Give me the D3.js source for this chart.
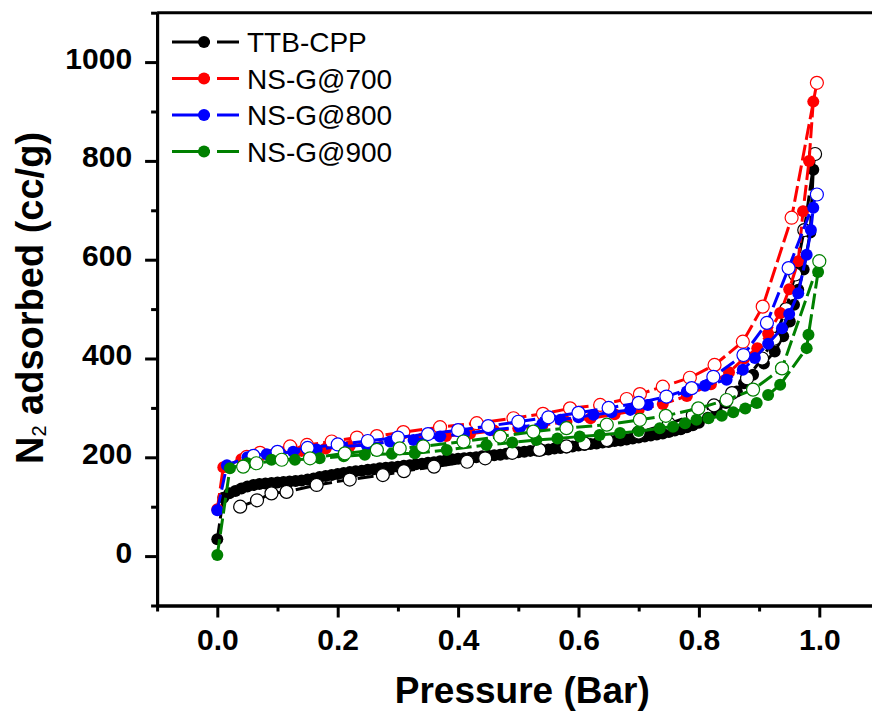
<!DOCTYPE html>
<html>
<head>
<meta charset="utf-8">
<script src="https://cdn.jsdelivr.net/npm/d3@7"></script>
<style>
  html, body { margin: 0; padding: 0; background: #fff; }
  svg { display: block; font-family: "Liberation Sans", Arial, sans-serif; }
</style>
</head>
<body>
<svg id="chart" width="872" height="712"></svg>
<script>
// ---------- data ----------
const seriesNames = ["TTB-CPP", "NS-G@700", "NS-G@800", "NS-G@900"];
const seriesColors = ["#000000", "#ff0000", "#0000ff", "#008000"];

// TTB-CPP (adsorption is a dense run of points)
const ttbAdsP = [0, 0.01, 0.02, 0.03, 0.04, 0.05, 0.06, 0.07, 0.08, 0.09, 0.10, 0.11, 0.12, 0.13, 0.14, 0.15, 0.16, 0.17, 0.18, 0.19, 0.20, 0.21, 0.22, 0.23, 0.24, 0.25, 0.26, 0.27, 0.28, 0.29, 0.30, 0.31, 0.32, 0.33, 0.34, 0.35, 0.36, 0.37, 0.38, 0.39, 0.40, 0.41, 0.42, 0.43, 0.44, 0.45, 0.46, 0.47, 0.48, 0.49, 0.50, 0.51, 0.52, 0.53, 0.54, 0.55, 0.56, 0.57, 0.58, 0.59, 0.60, 0.61, 0.62, 0.63, 0.64, 0.65, 0.66, 0.67, 0.68, 0.69, 0.70, 0.71, 0.72, 0.73, 0.74, 0.75, 0.76, 0.77, 0.78, 0.79, 0.80, 0.815, 0.83, 0.845, 0.863, 0.875, 0.89, 0.908, 0.926, 0.94, 0.951, 0.958, 0.965, 0.974, 0.985, 0.99];
const ttbAdsV = [34, 118, 127, 132, 137, 141, 144, 146, 147, 148, 149, 150, 151, 152, 153, 155, 157, 160, 162, 164, 166, 168, 170, 172, 173, 175, 176, 178, 179, 180, 181, 183, 184, 186, 187, 189, 190, 192, 194, 196, 197, 198, 199, 200, 202, 203, 204, 205, 207, 208, 210, 211, 213, 214, 215, 216, 218, 219, 220, 222, 224, 225, 227, 228, 230, 231, 233, 234, 236, 238, 240, 242, 244, 246, 248, 251, 254, 257, 261, 265, 270, 280, 292, 310, 333, 350, 367, 390, 414, 445, 475, 509, 539, 580, 655, 782];
const ttbDesP = [0.993, 0.975, 0.96, 0.945, 0.925, 0.905, 0.88, 0.855, 0.825, 0.79, 0.75, 0.70, 0.647, 0.61, 0.58, 0.535, 0.49, 0.445, 0.415, 0.36, 0.31, 0.275, 0.22, 0.165, 0.115, 0.09, 0.066, 0.038];
const ttbDesV = [814, 660, 570, 500, 440, 400, 360, 330, 305, 285, 268, 250, 235, 228, 222, 215, 209, 198, 191, 181, 172, 164, 155, 144, 130, 127, 113, 100];

// NS-G@700
const g700AdsP = [0, 0.01, 0.04, 0.07, 0.10, 0.14, 0.18, 0.22, 0.26, 0.30, 0.34, 0.38, 0.42, 0.46, 0.50, 0.54, 0.58, 0.62, 0.66, 0.70, 0.74, 0.78, 0.82, 0.85, 0.875, 0.897, 0.915, 0.935, 0.95, 0.965, 0.973, 0.983, 0.99];
const g700AdsV = [95, 180, 196, 202, 207, 213, 218, 223, 228, 233, 238, 243, 248, 254, 259, 265, 272, 279, 287, 296, 308, 324, 348, 372, 400, 421, 450, 492, 540, 597, 698, 800, 920];
const g700DesP = [0.996, 0.954, 0.906, 0.873, 0.826, 0.785, 0.740, 0.702, 0.680, 0.636, 0.586, 0.541, 0.492, 0.431, 0.37, 0.309, 0.265, 0.232, 0.19, 0.149, 0.121, 0.071, 0.049];
const g700DesV = [958, 685, 505, 434, 387, 361, 343, 328, 318, 306, 299, 288, 279, 269, 261, 251, 243, 240, 232, 225, 222, 209, 201];

// NS-G@800
const g800AdsP = [0, 0.016, 0.05, 0.082, 0.126, 0.165, 0.207, 0.248, 0.287, 0.326, 0.37, 0.41, 0.453, 0.503, 0.54, 0.57, 0.60, 0.625, 0.655, 0.686, 0.715, 0.747, 0.78, 0.81, 0.846, 0.873, 0.893, 0.915, 0.938, 0.95, 0.965, 0.979, 0.986, 0.99];
const g800AdsV = [93, 184, 200, 206, 211, 216, 222, 225, 232, 235, 242, 248, 255, 261, 268, 276, 281, 286, 291, 296, 306, 321, 333, 345, 357, 377, 401, 430, 461, 490, 532, 610, 660, 705];
const g800DesP = [0.996, 0.949, 0.913, 0.874, 0.824, 0.788, 0.746, 0.70, 0.65, 0.60, 0.55, 0.50, 0.45, 0.40, 0.35, 0.30, 0.25, 0.20, 0.15, 0.10, 0.06];
const g800DesV = [732, 583, 472, 407, 363, 340, 323, 310, 300, 290, 281, 272, 263, 255, 247, 240, 233, 226, 219, 211, 203];

// NS-G@900
const g900AdsP = [0, 0.021, 0.05, 0.09, 0.129, 0.17, 0.21, 0.245, 0.29, 0.328, 0.381, 0.447, 0.49, 0.53, 0.565, 0.602, 0.635, 0.669, 0.70, 0.735, 0.757, 0.777, 0.796, 0.816, 0.838, 0.857, 0.877, 0.896, 0.915, 0.935, 0.979, 0.982, 0.998];
const g900AdsV = [2, 178, 188, 195, 195, 198, 202, 205, 207, 208, 215, 225, 230, 235, 238, 242, 245, 249, 253, 259, 262, 269, 276, 279, 284, 291, 299, 310, 326, 347, 421, 448, 575];
const g900DesP = [1.0, 0.938, 0.89, 0.846, 0.799, 0.745, 0.702, 0.647, 0.58, 0.525, 0.47, 0.409, 0.342, 0.303, 0.265, 0.212, 0.154, 0.107, 0.065, 0.043];
const g900DesV = [597, 380, 337, 316, 299, 284, 276, 266, 259, 252, 242, 232, 222, 218, 215, 208, 198, 195, 188, 181];

// tick values
const xMajorTicks = [0, 0.2, 0.4, 0.6, 0.8, 1.0];
const xMinorTicks = [-0.1, 0.1, 0.3, 0.5, 0.7, 0.9, 1.1];
const yMajorTicks = [0, 200, 400, 600, 800, 1000];
const yMinorTicks = [-100, 100, 300, 500, 700, 900, 1100];

// ---------- build ----------
const zip = (P, V) => P.map((p, i) => ({ p: p, v: V[i] }));
const series = [
  { ads: zip(ttbAdsP, ttbAdsV), des: zip(ttbDesP, ttbDesV) },
  { ads: zip(g700AdsP, g700AdsV), des: zip(g700DesP, g700DesV) },
  { ads: zip(g800AdsP, g800AdsV), des: zip(g800DesP, g800DesV) },
  { ads: zip(g900AdsP, g900AdsV), des: zip(g900DesP, g900DesV) }
];

const svg = d3.select("#chart");
const x = d3.scaleLinear().domain([-0.1, 1.1]).range([157.1, 879.5]);
const y = d3.scaleLinear().domain([-100, 1100]).range([605.5, 12.7]);

// frame (top and right)
svg.append("path")
  .attr("d", `M${x(-0.1)},${y(1100)}H${x(1.1)}V${y(-100)}`)
  .attr("fill", "none").attr("stroke", "#000").attr("stroke-width", 3);

// axes
function styleAxis(g) {
  g.select(".domain").attr("stroke-width", 3);
  g.selectAll(".tick line").attr("stroke-width", 3);
  g.selectAll("text").attr("font-weight", "bold").attr("font-size", 30)
    .attr("font-family", "'Liberation Sans', Arial, sans-serif").attr("fill", "#000");
}
const gxMinor = svg.append("g").attr("transform", `translate(0,${y(-100)})`)
  .call(d3.axisBottom(x).tickValues(xMinorTicks).tickSize(6).tickFormat("").tickSizeOuter(0));
gxMinor.call(styleAxis);
const gx = svg.append("g").attr("transform", `translate(0,${y(-100)})`)
  .call(d3.axisBottom(x).tickValues(xMajorTicks).tickSize(12).tickPadding(11)
    .tickFormat(d3.format(".1f")).tickSizeOuter(0));
gx.call(styleAxis);

const gyMinor = svg.append("g").attr("transform", `translate(${x(-0.1)},0)`)
  .call(d3.axisLeft(y).tickValues(yMinorTicks).tickSize(6).tickFormat("").tickSizeOuter(0));
gyMinor.call(styleAxis);
const gy = svg.append("g").attr("transform", `translate(${x(-0.1)},0)`)
  .call(d3.axisLeft(y).tickValues(yMajorTicks).tickSize(12).tickPadding(13)
    .tickFormat(d3.format("d")).tickSizeOuter(0));
gy.call(styleAxis);
gy.selectAll("text").attr("dy", "0.2em");

// axis titles
svg.append("text")
  .attr("x", (x(0) + x(1)) / 2 + 4).attr("y", 703)
  .attr("text-anchor", "middle").attr("font-weight", "bold").attr("font-size", 37)
  .text("Pressure (Bar)");

const yt = svg.append("text")
  .attr("transform", "translate(43,298) rotate(-90)")
  .attr("text-anchor", "middle").attr("font-weight", "bold").attr("font-size", 38);
yt.append("tspan").text("N");
yt.append("tspan").attr("font-size", 20).attr("font-weight", "normal").attr("dy", 3).text("2");
yt.append("tspan").attr("dy", -3).text(" adsorbed (cc/g)");

// lines + markers
const line = d3.line().x(d => x(d.p)).y(d => y(d.v));
const plot = svg.append("g");
series.forEach((s, i) => {
  const c = seriesColors[i];
  const g = plot.append("g");
  g.append("path").datum(s.ads).attr("d", line)
    .attr("fill", "none").attr("stroke", c).attr("stroke-width", 3)
    .attr("stroke-dasharray", "16,5");
  g.append("path").datum(s.des).attr("d", line)
    .attr("fill", "none").attr("stroke", c).attr("stroke-width", 3)
    .attr("stroke-dasharray", "16,5");
  g.selectAll("circle.ads").data(s.ads).join("circle").attr("class", "ads")
    .attr("cx", d => x(d.p)).attr("cy", d => y(d.v)).attr("r", 6)
    .attr("fill", c);
  g.selectAll("circle.des").data(s.des).join("circle").attr("class", "des")
    .attr("cx", d => x(d.p)).attr("cy", d => y(d.v)).attr("r", 6.5)
    .attr("fill", "#fff").attr("stroke", c).attr("stroke-width", 1.2);
});

// legend
const legendY = [42, 78.5, 115, 151.5];
const lg = svg.append("g");
seriesNames.forEach((name, i) => {
  const row = lg.append("g").attr("transform", `translate(0,${legendY[i]})`);
  row.append("line").attr("x1", 172).attr("x2", 210).attr("y1", 0).attr("y2", 0)
    .attr("stroke", seriesColors[i]).attr("stroke-width", 3);
  row.append("line").attr("x1", 217).attr("x2", 239).attr("y1", 0).attr("y2", 0)
    .attr("stroke", seriesColors[i]).attr("stroke-width", 3);
  row.append("circle").attr("cx", 204).attr("cy", 0).attr("r", 6).attr("fill", seriesColors[i]);
  row.append("text").attr("x", 247).attr("y", 0).attr("dy", "0.36em")
    .attr("font-size", 28).attr("fill", "#000").text(name);
});
</script>
</body>
</html>
